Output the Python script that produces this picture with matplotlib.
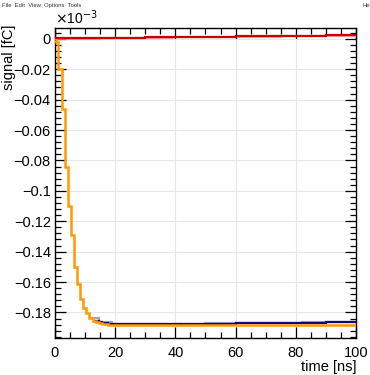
import matplotlib
matplotlib.use("Agg")
import matplotlib.pyplot as plt
from matplotlib.ticker import MultipleLocator, FuncFormatter

plt.rcParams['font.family'] = ['Liberation Sans', 'DejaVu Sans']

# ---------------- data (values in units of 1e-3 fC) ----------------
# orange: total signal, step histogram
orange_edges = [0, 0.4, 1.0, 2.3, 3.3, 4.4, 5.3, 6.3, 7.25, 8.3, 9.4, 10.35,
                11.4, 12.5, 13.55, 14.6, 15.65, 16.7, 17.75, 18.8, 19.85, 100]
orange_vals = [-0.0005, -0.0024, -0.0200, -0.0463, -0.0840, -0.1100, -0.1290,
               -0.1498, -0.1610, -0.1710, -0.1772, -0.1805, -0.1838, -0.1855,
               -0.1862, -0.1868, -0.1873, -0.1877, -0.1880, -0.1882, -0.1885]

# dark blue: component following orange then drifting up slightly
blue_edges = [12.5, 13.55, 14.6, 15.65, 16.7, 17.75, 18.8, 19.85, 30, 40, 50,
              60, 70, 80, 90, 100]
blue_vals = [-0.1853, -0.1858, -0.1864, -0.1869, -0.1872, -0.1875, -0.1877,
             -0.1878, -0.1877, -0.1875, -0.1873, -0.1871, -0.1869, -0.1867,
             -0.1864]
# light blue overlay
lblue_edges = [11.4, 14.6, 18.8, 26, 34, 42, 50, 58, 66, 74, 82, 90, 100]
lblue_vals = [-0.1836, -0.1860, -0.1874, -0.1877, -0.1876, -0.1874, -0.1872,
              -0.1870, -0.1869, -0.1867, -0.1865, -0.1864]

# dark red: small positive component
red_edges = [0, 10, 20, 30, 40, 50, 60, 70, 80, 90, 100]
red_vals = [0.0003, 0.0006, 0.0008, 0.0010, 0.0012, 0.0014, 0.0016, 0.0019,
            0.0022, 0.0026]
# light red overlay
lred_edges = [0, 3, 15, 27, 39, 51, 63, 75, 87, 100]
lred_vals = [-0.0002, 0.0001, 0.0004, 0.0007, 0.0009, 0.0011, 0.0013, 0.0017,
             0.0021]

# ---------------- figure ----------------
fig = plt.figure(figsize=(3.70, 3.75), dpi=100)
fig.patch.set_facecolor('white')

# ROOT window menu bar
fig.text(0.006, 0.992, "File  Edit  View  Options  Tools", fontsize=4.2,
         va='top', ha='left', color='#333333')
fig.text(0.999, 0.992, "He", fontsize=4.2, va='top', ha='right', color='#333333')

ax = fig.add_axes([0.1486, 0.0987, 0.9622 - 0.1486, 0.926 - 0.0987])

def step(edges, vals, **kw):
    ax.stairs(vals, edges, baseline=None, **kw)

step(lred_edges, lred_vals, color='#f08a8a', lw=1.6, alpha=0.8, zorder=3)
step(red_edges, red_vals, color='#cc0000', lw=1.6, zorder=4)
step(lblue_edges, lblue_vals, color='#8c9ad0', lw=1.6, alpha=0.9, zorder=3)
step(blue_edges, blue_vals, color='#0a0a78', lw=1.6, zorder=4)
step(orange_edges, orange_vals, color='#ff9900', lw=1.8, zorder=5)

ax.set_xlim(0, 100)
ax.set_ylim(-0.1968, 0.0073)

ax.xaxis.set_major_locator(MultipleLocator(20))
ax.xaxis.set_minor_locator(MultipleLocator(5))
ax.yaxis.set_major_locator(MultipleLocator(0.02))
ax.yaxis.set_minor_locator(MultipleLocator(0.004))

def yfmt(v, pos):
    if abs(v) < 1e-9:
        return "0"
    s = ("%.2f" % v).rstrip('0')
    return s.replace('-', '\u2212')
ax.yaxis.set_major_formatter(FuncFormatter(yfmt))

ax.tick_params(which='both', direction='in', top=True, right=True,
               labelsize=10.5, color='black')
ax.tick_params(which='major', length=8, width=0.9)
ax.tick_params(which='minor', length=4, width=0.9)
ax.tick_params(axis='x', pad=6)
ax.tick_params(axis='y', pad=3)

ax.grid(True, which='major', color='#e6e6e6', lw=0.8)
ax.set_axisbelow(True)
for s in ax.spines.values():
    s.set_linewidth(1.0)

fig.text(0.1486, 0.928, r"$\times$10$^{-3}$", fontsize=10, ha='left', va='bottom')
fig.text(0.9622, 0.021, "time [ns]", fontsize=10.5, ha='right', va='center')
fig.text(0.024, 0.935, "signal [fC]", fontsize=10.5, ha='center', va='top',
         rotation=90)

fig.savefig("out.png", dpi=100)
